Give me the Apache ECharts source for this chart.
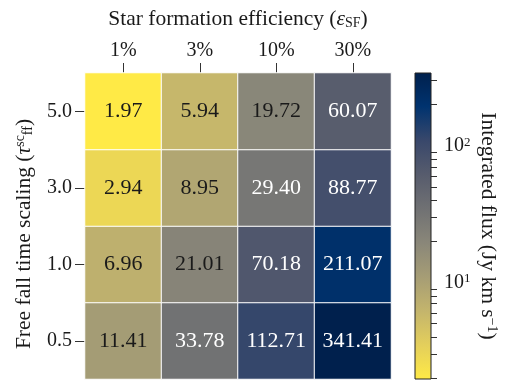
<!DOCTYPE html>
<html>
<head>
<meta charset="utf-8">
<script src="https://cdn.jsdelivr.net/npm/echarts@6/dist/echarts.min.js"></script>
<style>
  html, body { margin: 0; padding: 0; background: #ffffff; }
  #chart { width: 505px; height: 385px; }
</style>
</head>
<body>
<div id="chart"></div>
<script>
// Star formation efficiency (columns) and free-fall time scaling (rows, bottom to top)
const efficiencies = ['1%', '3%', '10%', '30%'];
const tauScalings = ['0.5', '1.0', '3.0', '5.0'];

// Integrated flux (Jy km/s), one array per free-fall scaling, ordered by efficiency
const flux_tau05 = [11.41, 33.78, 112.71, 341.41];
const flux_tau10 = [6.96, 21.01, 70.18, 211.07];
const flux_tau30 = [2.94, 8.95, 29.40, 88.77];
const flux_tau50 = [1.97, 5.94, 19.72, 60.07];

// Colorbar tick positions (log scale)
const colorbarMajor = [10, 100];
const colorbarMinor = [2, 3, 4, 5, 6, 7, 8, 9, 20, 30, 40, 50, 60, 70, 80, 90, 200, 300];

// cividis colormap, dark end first
const cividis = ['#00204D', '#00336F', '#39486B', '#575C6D', '#707173',
                 '#8A8779', '#A69D75', '#C4B56C', '#E4CF5B', '#FFEA46'];

const FONT = 'Liberation Serif';
const INK = '#1a1a1a';
const TITLE_SIZE = 21.5;

const rows = [flux_tau05, flux_tau10, flux_tau30, flux_tau50];
const allVals = rows.flat();
const fMin = Math.min(...allVals);
const fMax = Math.max(...allVals);
const lMin = Math.log10(fMin), lMax = Math.log10(fMax);

const heatData = [];
rows.forEach((row, yi) => {
  row.forEach((v, xi) => {
    const t = (Math.log10(v) - lMin) / (lMax - lMin);
    heatData.push({
      value: [xi, yi, v, Math.log10(v)],
      label: { color: t > 0.5 ? '#ffffff' : INK }
    });
  });
});

const chart = echarts.init(document.getElementById('chart'), null, { renderer: 'canvas' });

const gradientStops = cividis.map((c, i) => ({ offset: i / (cividis.length - 1), color: c }));

chart.setOption({
  animation: false,
  backgroundColor: '#ffffff',
  textStyle: { fontFamily: FONT },
  grid: [
    { left: 85, top: 73, width: 306, height: 306 },
    { left: 415, top: 73, width: 16, height: 306 }
  ],
  xAxis: [
    {
      type: 'category', gridIndex: 0, position: 'top',
      data: efficiencies,
      axisLine: { show: false },
      axisTick: { show: true, alignWithLabel: true, length: 10, lineStyle: { color: '#333', width: 1 } },
      axisLabel: { fontFamily: FONT, fontSize: 20, color: INK, margin: 12 },
      splitLine: { show: false },
      name: 'Star formation efficiency ({e|ε}{sub|SF})',
      nameLocation: 'middle', nameGap: 43,
      nameTextStyle: {
        fontFamily: FONT, fontSize: TITLE_SIZE, color: INK,
        rich: {
          e: { fontFamily: FONT, fontStyle: 'italic', fontSize: TITLE_SIZE, color: INK },
          sub: { fontFamily: FONT, fontSize: 14, color: INK, verticalAlign: 'bottom', lineHeight: 22 }
        }
      }
    },
    { type: 'value', gridIndex: 1, min: 0, max: 1, show: false }
  ],
  yAxis: [
    {
      type: 'category', gridIndex: 0,
      data: tauScalings,
      axisLine: { show: false },
      axisTick: { show: true, alignWithLabel: true, length: 10, lineStyle: { color: '#333', width: 1 } },
      axisLabel: { fontFamily: FONT, fontSize: 20, color: INK, margin: 13 },
      splitLine: { show: false },
      name: 'Free fall time scaling ({t|τ}{sup|sc}{sub|ff})',
      nameLocation: 'middle', nameGap: 50,
      nameTextStyle: {
        fontFamily: FONT, fontSize: TITLE_SIZE, color: INK,
        padding: [0, 16, 0, 0],
        rich: {
          t: { fontFamily: FONT, fontStyle: 'italic', fontSize: TITLE_SIZE, color: INK },
          sup: { fontFamily: FONT, fontSize: 14, color: INK, verticalAlign: 'top', lineHeight: 22 },
          sub: { fontFamily: FONT, fontSize: 14, color: INK, verticalAlign: 'bottom', lineHeight: 22 }
        }
      }
    },
    {
      type: 'log', gridIndex: 1, position: 'right', min: fMin, max: fMax, logBase: 10,
      axisLine: { show: false },
      axisTick: { show: true, length: 10, customValues: colorbarMajor, lineStyle: { color: '#333', width: 1 } },
      axisLabel: {
        show: true, customValues: colorbarMajor, margin: 13,
        fontFamily: FONT, fontSize: 20, color: INK,
        formatter: v => '10{sup|' + Math.round(Math.log10(v)) + '}',
        rich: { sup: { fontFamily: FONT, fontSize: 13, color: INK, verticalAlign: 'top', lineHeight: 20 } }
      },
      splitLine: { show: false },
      name: 'Integrated flux (Jy km s{sup|−1})',
      nameLocation: 'middle', nameGap: 46, nameRotate: -90,
      nameTextStyle: {
        fontFamily: FONT, fontSize: TITLE_SIZE, color: INK,
        rich: { sup: { fontFamily: FONT, fontSize: 14, color: INK, verticalAlign: 'top', lineHeight: 22 } }
      }
    },
    {
      type: 'log', gridIndex: 1, position: 'right', min: fMin, max: fMax, logBase: 10,
      axisLine: { show: false },
      axisTick: { show: true, length: 6, customValues: colorbarMinor, lineStyle: { color: '#333', width: 1 } },
      axisLabel: { show: false },
      splitLine: { show: false }
    }
  ],
  visualMap: {
    show: false, type: 'continuous', dimension: 3, seriesIndex: 0,
    min: lMin, max: lMax,
    inRange: { color: cividis.slice().reverse() }
  },
  series: [
    {
      type: 'heatmap', xAxisIndex: 0, yAxisIndex: 0,
      data: heatData,
      itemStyle: { borderColor: '#ffffff', borderWidth: 1 },
      label: {
        show: true, fontFamily: FONT, fontSize: 22,
        formatter: p => p.value[2].toFixed(2)
      },
      emphasis: { disabled: true }
    },
    {
      type: 'custom', xAxisIndex: 1, yAxisIndex: 1,
      data: [[0, fMin, fMax]],
      renderItem: (params, api) => {
        const p0 = api.coord([0, api.value(1)]);
        const p1 = api.coord([1, api.value(2)]);
        return {
          type: 'rect',
          shape: { x: p0[0], y: p1[1], width: p1[0] - p0[0], height: p0[1] - p1[1] },
          style: {
            fill: new echarts.graphic.LinearGradient(0, 0, 0, 1, gradientStops),
            stroke: '#222', lineWidth: 1
          }
        };
      },
      silent: true
    }
  ]
});
</script>
</body>
</html>
